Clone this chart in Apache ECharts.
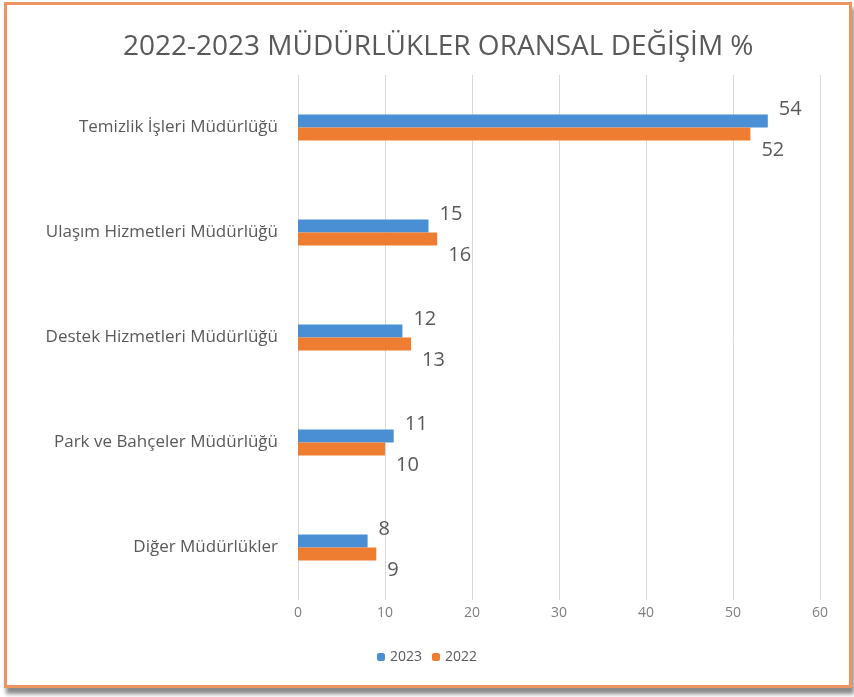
<!DOCTYPE html>
<html>
<head>
<meta charset="utf-8">
<script src="https://cdn.jsdelivr.net/npm/echarts@6/dist/echarts.min.js"></script>
<style>
html, body { margin: 0; padding: 0; background: #fff; }
.cerceve {
  position: absolute; left: 4px; top: 2px; width: 842px; height: 680px;
  border: 3px solid #EE9460; box-shadow: 2px 6px 4px #8a8a8a; background: #fff;
}
#grafik { position: absolute; left: 0; top: 0; width: 854px; height: 697px; }
</style>
</head>
<body>
<div class="cerceve"></div>
<div id="grafik"></div>
<script>
// kategoriler (Excel gibi ters sırada: alttan üste)
const mudurlukler = [
  'Diğer Müdürlükler',
  'Park ve Bahçeler Müdürlüğü',
  'Destek Hizmetleri Müdürlüğü',
  'Ulaşım Hizmetleri Müdürlüğü',
  'Temizlik İşleri Müdürlüğü'
]
const deger2023 = [8, 11, 12, 15, 54]
const deger2022 = [9, 10, 13, 16, 52]
const eksenEtiket = [0, 10, 20, 30, 40, 50, 60]

const yaziRengi = '#595959'

let myChart = echarts.init(document.getElementById('grafik'))
let option = {
  animation: false,
  title: {
    text: '2022-2023 MÜDÜRLÜKLER ORANSAL DEĞİŞİM %',
    left: 118,
    top: 28,
    textStyle: {
      fontFamily: 'Open Sans',
      fontSize: 28,
      fontWeight: 'normal',
      color: yaziRengi
    }
  },
  legend: {
    bottom: 28,
    left: 'center',
    itemWidth: 8,
    itemHeight: 8,
    itemGap: 10,
    textStyle: { fontFamily: 'Open Sans', fontSize: 14, color: yaziRengi },
    data: ['2023', '2022']
  },
  grid: { left: 298, right: 34, top: 75, bottom: 97 },
  xAxis: {
    type: 'value',
    min: eksenEtiket[0],
    max: eksenEtiket[eksenEtiket.length - 1],
    interval: 10,
    axisLine: { show: false },
    axisTick: { show: false },
    axisLabel: { color: '#7f7f7f', fontFamily: 'Open Sans', fontSize: 14, margin: 6 },
    splitLine: { lineStyle: { color: '#d9d9d9', width: 1 } }
  },
  yAxis: {
    type: 'category',
    data: mudurlukler,
    axisLine: { show: false },
    axisTick: { show: false },
    axisLabel: { color: yaziRengi, fontFamily: 'Open Sans', fontSize: 17, margin: 20 }
  },
  series: [
    {
      name: '2023',
      type: 'bar',
      data: deger2023,
      barWidth: 13,
      barGap: '0%',
      itemStyle: { color: '#4A8FD4' },
      label: {
        show: true,
        position: 'right',
        offset: [6, -12],
        color: yaziRengi,
        fontFamily: 'Open Sans',
        fontSize: 20
      }
    },
    {
      name: '2022',
      type: 'bar',
      data: deger2022,
      barWidth: 13,
      itemStyle: { color: '#EE7D31' },
      label: {
        show: true,
        position: 'right',
        offset: [6, 16],
        color: yaziRengi,
        fontFamily: 'Open Sans',
        fontSize: 20
      }
    }
  ]
}
myChart.setOption(option)
</script>
</body>
</html>
